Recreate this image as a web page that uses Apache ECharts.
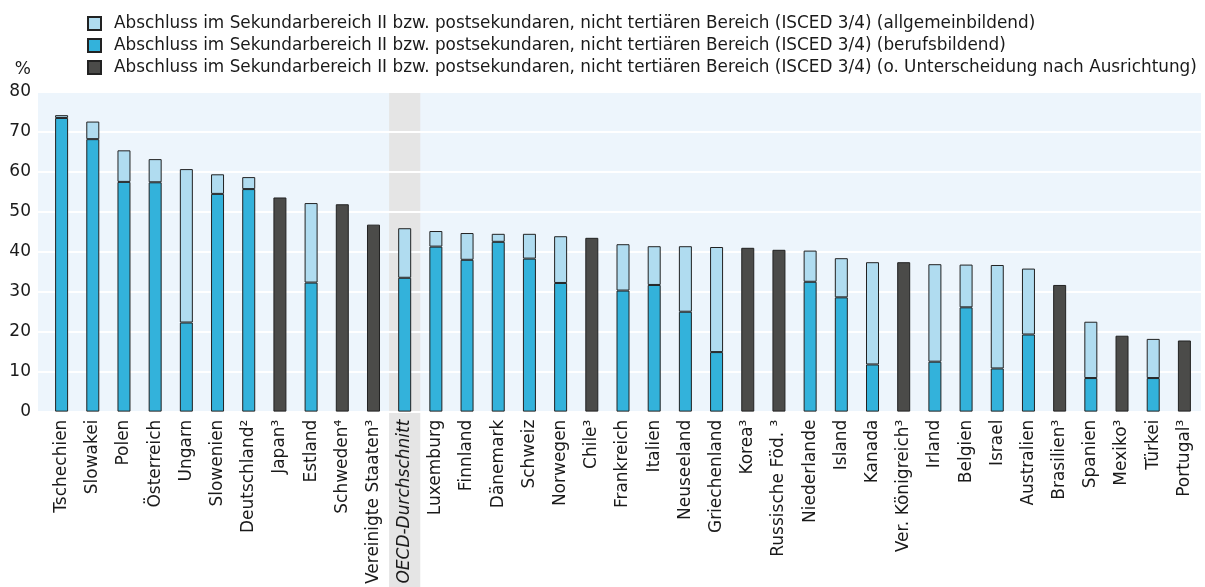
<!DOCTYPE html>
<html><head><meta charset="utf-8">
<script src="https://cdn.jsdelivr.net/npm/echarts@6/dist/echarts.min.js"></script>
<style>html,body{margin:0;padding:0;background:#fff}#c{width:1205px;height:587px}</style>
</head><body><div id="c"></div>
<script>
const categories = ['Tschechien','Slowakei','Polen','Österreich','Ungarn','Slowenien','Deutschland²','Japan³','Estland','Schweden⁴','Vereinigte Staaten³','OECD-Durchschnitt','Luxemburg','Finnland','Dänemark','Schweiz','Norwegen','Chile³','Frankreich','Italien','Neuseeland','Griechenland','Korea³','Russische Föd. ³','Niederlande','Island','Kanada','Ver. Königreich³','Irland','Belgien','Israel','Australien','Brasilien³','Spanien','Mexiko³','Türkei','Portugal³'];
const berufsbildend = [73.5,68.2,57.5,57.4,22.3,54.5,55.7,null,32.3,null,null,33.5,41.3,38.0,42.5,38.3,32.2,null,30.3,31.7,25.0,14.9,null,null,32.5,28.6,11.8,null,12.5,26.1,10.8,19.3,null,8.4,null,8.4,null];
const allgemeinbildend = [0.7,4.4,7.9,5.8,38.4,4.9,3.0,null,19.9,null,null,12.4,3.9,6.7,2.0,6.2,11.7,null,11.6,9.7,16.4,26.3,null,null,7.8,9.8,25.6,null,24.4,10.7,25.9,16.5,null,14.1,null,9.8,null];
const ohneUnterscheidung = [null,null,null,null,null,null,null,53.6,null,51.9,46.8,null,null,null,null,null,null,43.5,null,null,null,null,41.0,40.5,null,null,null,37.4,null,null,null,null,31.7,null,19.0,null,17.8];
const yTicks = [0,10,20,30,40,50,60,70,80];
const seriesNames = [
 'Abschluss im Sekundarbereich II bzw. postsekundaren, nicht tertiären Bereich (ISCED 3/4) (allgemeinbildend)',
 'Abschluss im Sekundarbereich II bzw. postsekundaren, nicht tertiären Bereich (ISCED 3/4) (berufsbildend)',
 'Abschluss im Sekundarbereich II bzw. postsekundaren, nicht tertiären Bereich (ISCED 3/4) (o. Unterscheidung nach Ausrichtung)'
];
const highlightCategory = 'OECD-Durchschnitt';

const FONT = 'DejaVu Sans';
const FS = 17;
const chart = echarts.init(document.getElementById('c'), null, {renderer:'canvas'});
const border = {borderColor:'#222', borderWidth:1};
const opt = {
  animation:false,
  textStyle:{fontFamily:FONT, color:'#1a1a1a'},
  legend:{
    orient:'vertical', left:82, top:10, itemWidth:13, itemHeight:13, itemGap:5, icon:'rect',
    data:[seriesNames[0],seriesNames[1],seriesNames[2]],
    textStyle:{fontFamily:FONT, fontSize:16.85, color:'#1a1a1a', padding:[0,0,0,8]},
    selectedMode:false
  },
  grid:[
    {left:46, right:5, top:92, bottom:175, containLabel:false},
    {left:38, right:4, top:92, bottom:175, containLabel:false}
  ],
  xAxis:[
    {type:'category', gridIndex:0, data:categories.map(c => c===highlightCategory ? {value:c, textStyle:{fontStyle:'italic'}} : c),
     axisLine:{show:false}, axisTick:{show:false},
     axisLabel:{rotate:90, interval:0, margin:8, fontSize:FS, fontFamily:FONT, color:'#1a1a1a'}},
    {type:'value', gridIndex:1, show:false}
  ],
  yAxis:[
    {type:'value', gridIndex:0, min:0, max:80, interval:10, show:false},
    {type:'value', gridIndex:1, min:yTicks[0], max:yTicks[yTicks.length-1], interval:10,
     name:'%', nameLocation:'end', nameGap:14, nameTextStyle:{fontSize:FS, fontFamily:FONT, color:'#1a1a1a', align:'right', padding:[0,7,0,0]},
     axisLine:{show:false}, axisTick:{show:false},
     axisLabel:{fontSize:FS, margin:7, color:'#1a1a1a', fontFamily:FONT, padding:[4,0,0,0]},
     splitLine:{show:true, lineStyle:{color:'#ffffff', width:2}}}
  ],
  series:[
    {name:seriesNames[1], type:'bar', stack:'a', xAxisIndex:0, yAxisIndex:0, barWidth:13, data:berufsbildend, itemStyle:Object.assign({color:'#33b2db'},border)},
    {name:seriesNames[0], type:'bar', stack:'a', xAxisIndex:0, yAxisIndex:0, barWidth:13, data:allgemeinbildend, itemStyle:Object.assign({color:'#b0dcf0'},border)},
    {name:seriesNames[2], type:'bar', stack:'a', xAxisIndex:0, yAxisIndex:0, barWidth:13, data:ohneUnterscheidung, itemStyle:Object.assign({color:'#4b4b49'},border)}
  ]
};
chart.setOption(opt);
const idx = categories.indexOf(highlightCategory);
const pTop = chart.convertToPixel({gridIndex:1}, [0, 80]);
const pBot = chart.convertToPixel({gridIndex:1}, [0, 0]);
const c0 = chart.convertToPixel({xAxisIndex:0, yAxisIndex:0}, [0, 0]);
const c1 = chart.convertToPixel({xAxisIndex:0, yAxisIndex:0}, [1, 0]);
const ch = chart.convertToPixel({xAxisIndex:0, yAxisIndex:0}, [idx, 0]);
const band = c1[0]-c0[0];
const lastC = chart.convertToPixel({xAxisIndex:0, yAxisIndex:0}, [categories.length-1, 0]);
const gLeft = 38;
chart.setOption({graphic:[
  {type:'rect', z:-20, silent:true, shape:{x:gLeft, y:pTop[1], width:lastC[0]+band/2-gLeft+1, height:pBot[1]-pTop[1]}, style:{fill:'#edf5fc'}},
  {type:'rect', z:-10, silent:true, shape:{x:ch[0]-band/2, y:pTop[1], width:band, height:587-pTop[1]}, style:{fill:'#e5e5e5'}}
]});
</script></body></html>
